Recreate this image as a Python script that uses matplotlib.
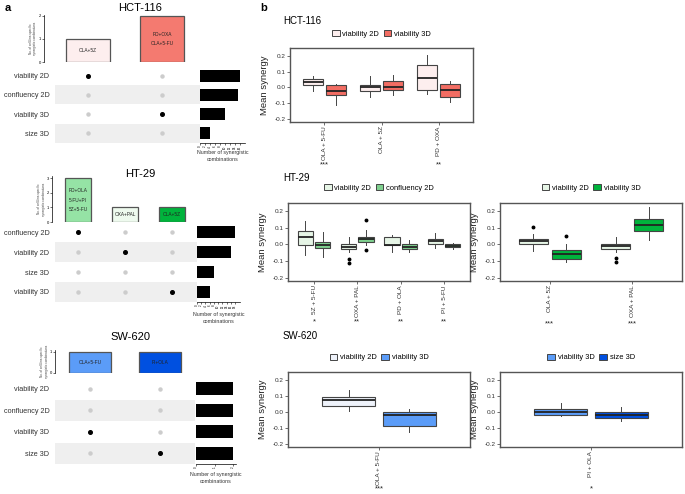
import numpy as np
import matplotlib
matplotlib.use("Agg")
import matplotlib.pyplot as plt
import matplotlib.transforms as mtransforms
from matplotlib.patches import Patch

plt.rcParams['font.family'] = ['Liberation Sans', 'DejaVu Sans']

W, H = 685, 494

# ---------------- panel a data ----------------
hct_readouts = ['viability 2D', 'confluency 2D', 'viability 3D', 'size 3D']
hct_inter_labels = ['OLA+5Z', 'PD+OXA\n\nOLA+5-FU']
hct_inter_counts = [1, 2]
hct_inter_readout = ['viability 2D', 'viability 3D']
hct_inter_colors = ['#fdeeee', '#f47a70']
hct_setsize = [16, 15, 10, 4]

ht_readouts = ['confluency 2D', 'viability 2D', 'size 3D', 'viability 3D']
ht_inter_labels = ['PD+OLA\n\n5-FU+PI\n\n5Z+5-FU', 'OXA+PAL', 'OLA+5Z']
ht_inter_counts = [3, 1, 1]
ht_inter_readout = ['confluency 2D', 'viability 2D', 'viability 3D']
ht_inter_colors = ['#95e3a5', '#eefaee', '#00b33c']
ht_setsize = [18, 16, 8, 6]

sw_readouts = ['viability 2D', 'confluency 2D', 'viability 3D', 'size 3D']
sw_inter_labels = ['OLA+5-FU', 'PI+OLA']
sw_inter_counts = [1, 1]
sw_inter_readout = ['viability 3D', 'size 3D']
sw_inter_colors = ['#5b9cf8', '#0050e0']
sw_setsize = [2, 2, 2, 2]

# ---------------- panel b data (whislo, q1, med, q3, whishi) ----------------
hct_groups = ['OLA + 5-FU', 'OLA + 5Z', 'PD + OXA']
hct_sig = ['***', '', '**']
hct_series = ['viability 2D', 'viability 3D']
hct_v2d = [[-0.022, 0.014, 0.033, 0.054, 0.071],
           [-0.060, -0.026, 0.000, 0.018, 0.071],
           [-0.045, -0.018, 0.060, 0.145, 0.208]]
hct_v3d = [[-0.113, -0.050, -0.026, 0.012, 0.020],
           [-0.050, -0.014, 0.005, 0.039, 0.077],
           [-0.092, -0.060, -0.016, 0.024, 0.039]]
hct_fliers_2d = [[], [], []]
hct_fliers_3d = [[], [], []]

htl_groups = ['5Z + 5-FU', 'OXA + PAL', 'PD + OLA', 'PI + 5-FU']
htl_sig = ['*', '**', '**', '**']
htl_series = ['viability 2D', 'confluency 2D']
htl_v2d = [[-0.063, -0.002, 0.048, 0.079, 0.139],
           [-0.048, -0.028, -0.018, 0.002, 0.046],
           [-0.048, -0.004, -0.002, 0.046, 0.059],
           [-0.024, 0.000, 0.020, 0.036, 0.067]]
htl_c2d = [[-0.077, -0.022, -0.002, 0.018, 0.073],
           [-0.004, 0.018, 0.032, 0.046, 0.089],
           [-0.044, -0.028, -0.014, 0.000, 0.026],
           [-0.028, -0.018, -0.008, 0.004, 0.008]]
htl_fliers_v2d = [[], [-0.085, -0.109], [], []]
htl_fliers_c2d = [[], [0.147, -0.034], [], []]

htr_groups = ['OLA + 5Z', 'OXA + PAL']
htr_sig = ['***', '***']
htr_series = ['viability 2D', 'viability 3D']
htr_v2d = [[-0.038, 0.003, 0.024, 0.034, 0.065],
           [-0.048, -0.028, -0.011, 0.003, 0.048]]
htr_v3d = [[-0.106, -0.087, -0.056, -0.034, 0.001],
           [0.030, 0.081, 0.116, 0.151, 0.225]]
htr_fliers_v2d = [[0.108], [-0.079, -0.108]]
htr_fliers_v3d = [[0.054], []]

swl_groups = ['OLA + 5-FU']
swl_sig = ['***']
swl_series = ['viability 2D', 'viability 3D']
swl_v2d = [[0.008, 0.038, 0.076, 0.093, 0.137]]
swl_v3d = [[-0.126, -0.091, -0.017, 0.002, 0.017]]

swr_groups = ['PI + OLA']
swr_sig = ['*']
swr_series = ['viability 3D', 'size 3D']
swr_v3d = [[-0.025, -0.019, 0.000, 0.021, 0.054]]
swr_s3d = [[-0.056, -0.040, -0.019, 0.002, 0.029]]

fig = plt.figure(figsize=(W / 100, H / 100), dpi=100)


def ax_px(x0, y0, x1, y1):
    return fig.add_axes([x0 / W, 1 - y1 / H, (x1 - x0) / W, (y1 - y0) / H])


def ftext(x, y, s, **kw):
    fig.text(x / W, 1 - y / H, s, **kw)


def upset(title_xy, bar_box, mat_box, set_box, xlim, ylim_bar, spine_out,
          readouts, labels, counts, inter_read, colors, setsize, set_xlim,
          set_ticks, bar_yticks, bar_w, label_y):
    ftext(title_xy[0], title_xy[1], title_xy[2], ha='center', va='center', fontsize=8)
    # intersection bars
    axb = ax_px(*bar_box)
    xs = np.arange(len(counts))
    axb.bar(xs, counts, width=bar_w, color=colors, edgecolor='#555555', linewidth=0.9)
    for x, c, lab in zip(xs, counts, labels):
        axb.text(x, c / 2, lab, ha='center', va='center', fontsize=3.4,
                 color='#222222', linespacing=0.9)
    axb.set_xlim(*xlim)
    axb.set_ylim(*ylim_bar)
    for s in ['top', 'right', 'bottom']:
        axb.spines[s].set_visible(False)
    axb.spines['left'].set_position(('outward', spine_out))
    axb.spines['left'].set_linewidth(0.5)
    axb.set_xticks([])
    axb.set_yticks(bar_yticks)
    axb.tick_params(axis='y', labelsize=3, length=1.5, width=0.4, pad=0.5)
    axb.set_ylabel('No. of cell-line-specific\nsynergistic combinations',
                   fontsize=2.2, labelpad=1, color='#444444')
    axb.patch.set_alpha(0)
    # matrix
    axm = ax_px(*mat_box)
    n = len(readouts)
    for i in range(n):
        if i % 2 == 1:
            axm.axhspan(i - 0.5, i + 0.5, color='#efefef', zorder=0, lw=0)
    for j in range(len(counts)):
        for i, r in enumerate(readouts):
            on = (inter_read[j] == r)
            axm.plot(j, i, 'o', ms=2.6 if on else 2.2,
                     color='black' if on else '#cccccc', zorder=3)
    axm.set_xlim(*xlim)
    axm.set_ylim(n - 0.5, -0.5)
    axm.set_yticks(range(n))
    axm.set_yticklabels(readouts, fontsize=5.2, color='#333333')
    axm.tick_params(axis='y', length=0, pad=4)
    axm.set_xticks([])
    for s in axm.spines.values():
        s.set_visible(False)
    # set sizes
    axs = ax_px(*set_box)
    axs.barh(range(n), setsize, height=0.62, color='black')
    axs.set_xlim(*set_xlim)
    axs.set_ylim(n - 0.5, -0.5)
    axs.set_yticks([])
    axs.set_xticks(set_ticks)
    axs.tick_params(axis='x', labelsize=2.2, length=1.5, width=0.4, pad=0.5, labelrotation=90)
    for s in ['top', 'right', 'left']:
        axs.spines[s].set_visible(False)
    axs.spines['bottom'].set_linewidth(0.5)
    axs.patch.set_alpha(0)
    ftext((set_box[0] + set_box[2]) / 2, label_y, 'Number of synergistic\ncombinations',
          ha='center', va='center', fontsize=3.8, color='#333333', linespacing=1.3)


# HCT-116
upset((140, 8, 'HCT-116'), (55, 15, 200, 62), (55, 66, 200, 143), (200, 66, 245, 143),
      (-0.446, 1.514), (0, 2.04), 8, hct_readouts, hct_inter_labels, hct_inter_counts,
      hct_inter_readout, hct_inter_colors, hct_setsize, (0, 18), range(0, 17, 2),
      [0, 1, 2], 0.6, 156)
# HT-29
upset((140, 174, 'HT-29'), (55, 176, 197, 222), (55, 222, 197, 302), (197, 222, 240, 302),
      (-0.489, 2.532), (0, 3.14), 2, ht_readouts, ht_inter_labels, ht_inter_counts,
      ht_inter_readout, ht_inter_colors, ht_setsize, (0, 20.4), range(0, 19, 2),
      [0, 1, 2, 3], 0.57, 318)
# SW-620
upset((130, 337, 'SW-620'), (55, 350, 195, 373), (55, 378, 195, 464), (196, 378, 236, 464),
      (-0.5, 1.5), (0, 1.095), 0, sw_readouts, sw_inter_labels, sw_inter_counts,
      sw_inter_readout, sw_inter_colors, sw_setsize, (0, 2.16), [0, 1, 2],
      [0, 1], 0.6, 478)

ftext(5, 8, 'a', fontsize=8, fontweight='bold', va='center')
ftext(260, 8, 'b', fontsize=8, fontweight='bold', va='center')
ftext(283, 21, 'HCT-116', fontsize=7, va='center')
ftext(283, 178, 'HT-29', fontsize=7, va='center')
ftext(283, 336, 'SW-620', fontsize=7, va='center')


def boxpanel(box, groups, sig, series, data, fliers, colors, sig_y):
    ax = ax_px(*box)
    n = len(groups)
    xs = np.arange(1, n + 1)
    for k in range(2):
        off = -0.2 if k == 0 else 0.2
        stats = []
        for s, f in zip(data[k], fliers[k]):
            stats.append(dict(whislo=s[0], q1=s[1], med=s[2], q3=s[3], whishi=s[4], fliers=f))
        ax.bxp(stats, positions=xs + off, widths=0.35, patch_artist=True, showcaps=False,
               boxprops=dict(facecolor=colors[k], edgecolor='#444444', linewidth=0.8),
               medianprops=dict(color='#222222', linewidth=1.3),
               whiskerprops=dict(color='#444444', linewidth=0.7),
               flierprops=dict(marker='o', markersize=1.8, markerfacecolor='black',
                               markeredgecolor='black'),
               manage_ticks=False)
    ax.set_xlim(0.4, n + 0.6)
    ax.set_ylim(-0.22, 0.25)
    ax.set_yticks([-0.2, -0.1, 0.0, 0.1, 0.2])
    ax.set_yticklabels(['-0.2', '-0.1', '0.0', '0.1', '0.2'])
    ax.set_xticks(xs)
    ax.set_xticklabels(groups, rotation=90)
    ax.tick_params(labelsize=4.6, length=2, width=0.5, pad=1, colors='#333333')
    for s in ax.spines.values():
        s.set_color('#555555')
        s.set_linewidth(1.0)
    ax.set_ylabel('Mean synergy', fontsize=6.8, color='#222222')
    ax.yaxis.set_label_coords(-0.115, 0.5)
    handles = [Patch(facecolor=colors[k], edgecolor='#444444', linewidth=0.7) for k in range(2)]
    ax.legend(handles, series, loc='center', bbox_to_anchor=(0.5, 1.19), ncol=2,
              frameon=False, fontsize=5.4, handlelength=1.0, handleheight=0.8,
              handletextpad=0.4, columnspacing=0.6)
    tr = mtransforms.blended_transform_factory(ax.transData, fig.transFigure)
    for x, s in zip(xs, sig):
        if s:
            ax.text(x, 1 - sig_y / H, s, transform=tr,
                    ha='center', va='center', fontsize=5.5, color='#222222')
    return ax


boxpanel((290, 48, 473, 122), hct_groups, hct_sig, hct_series, [hct_v2d, hct_v3d],
         [hct_fliers_2d, hct_fliers_3d], ['#fdeeee', '#f26d63'], 165)
boxpanel((288, 203, 470, 281), htl_groups, htl_sig, htl_series, [htl_v2d, htl_c2d],
         [htl_fliers_v2d, htl_fliers_c2d], ['#e6f5e6', '#7fd08f'], 322)
boxpanel((500, 203, 682, 281), htr_groups, htr_sig, htr_series, [htr_v2d, htr_v3d],
         [htr_fliers_v2d, htr_fliers_v3d], ['#e6f5e6', '#00b33c'], 324)
boxpanel((288, 372, 470, 447), swl_groups, swl_sig, swl_series, [swl_v2d, swl_v3d],
         [[[]], [[]]], ['#eef2fa', '#5b9cf8'], 489)
boxpanel((500, 372, 682, 447), swr_groups, swr_sig, swr_series, [swr_v3d, swr_s3d],
         [[[]], [[]]], ['#5b9cf8', '#0050e0'], 489)

fig.savefig('out.png', dpi=100)
